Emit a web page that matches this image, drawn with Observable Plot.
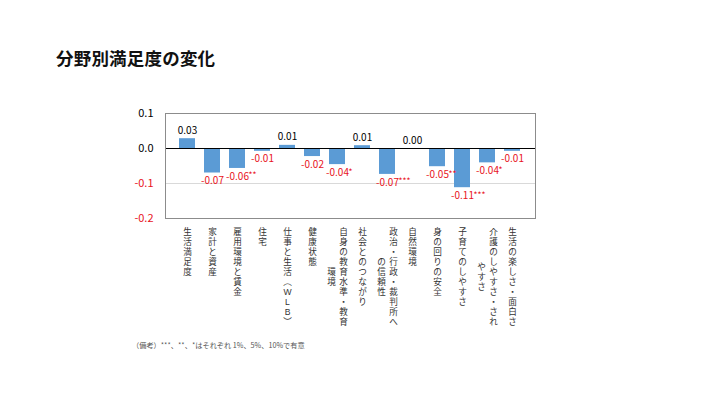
<!DOCTYPE html>
<html>
<head>
<meta charset="utf-8">
<script src="https://cdn.jsdelivr.net/npm/d3@7"></script>
<script src="https://cdn.jsdelivr.net/npm/@observablehq/plot@0.6"></script>
<style>
  html, body { margin: 0; padding: 0; background: #fff; }
  #wrap { position: relative; width: 720px; height: 405px; overflow: hidden; font-family: "Noto Sans CJK JP", "Noto Sans", sans-serif; }
  #title { position: absolute; left: 56px; top: 45px; font-size: 17.5px; font-weight: 700; color: #111; letter-spacing: 0.2px; }
  #note { position: absolute; left: 132px; top: 340px; font-size: 7.2px; color: #555; white-space: nowrap; }
  #chart { position: absolute; left: 0; top: 0; }
</style>
</head>
<body>
<div id="wrap">
  <div id="chart"></div>
  <div id="title">分野別満足度の変化</div>
  <div id="note">（備考）***、**、*はそれぞれ 1%、5%、10%で有意</div>
</div>
<script>
const categories = ["生活満足度","家計と資産","雇用環境と賃金","住宅","仕事と生活（WLB）","健康状態","自身の教育水準・教育環境","社会とのつながり","政治・行政・裁判所への信頼性","自然環境","身の回りの安全","子育てのしやすさ","介護のしやすさ・されやすさ","生活の楽しさ・面白さ"];
const labelLines = [["生活満足度"],["家計と資産"],["雇用環境と賃金"],["住宅"],["仕事と生活︵WLB︶"],["健康状態"],["自身の教育水準・教育","環境"],["社会とのつながり"],["政治・行政・裁判所へ","の信頼性"],["自然環境"],["身の回りの安全"],["子育てのしやすさ"],["介護のしやすさ・され","やすさ"],["生活の楽しさ・面白さ"]];
const values = [0.028, -0.070, -0.057, -0.008, 0.009, -0.023, -0.046, 0.008, -0.074, 0.000, -0.052, -0.112, -0.041, -0.008];
const valueLabels = ["0.03","-0.07","-0.06","-0.01","0.01","-0.02","-0.04","0.01","-0.07","0.00","-0.05","-0.11","-0.04","-0.01"];
const stars = ["","","**","","","","*","","***","","**","***","*",""];
const yTicks = [0.1, 0.0, -0.1, -0.2];
const yTickLabels = ["0.1","0.0","-0.1","-0.2"];

const RED = "#e8141c";
const FS = 8.6, LH = 10 / 8.6;
const LABEL_FONT = "'Liberation Sans', 'Noto Sans CJK JP', sans-serif";
const rows = categories.map((c, i) => ({cat: c, value: values[i], label: valueLabels[i], star: stars[i], lines: labelLines[i]}));
const tickRows = yTicks.map((v, i) => ({v, label: yTickLabels[i]}));
const vert = s => Array.from(s).join("\n");

const secondCols = rows.filter(d => d.lines.length > 1).map(d =>
  Plot.text([d], {
    x: "cat", frameAnchor: "bottom", text: r => vert(r.lines[1]),
    lineAnchor: "top", lineHeight: LH, fontSize: FS, fontFamily: LABEL_FONT, fill: "#333",
    dx: -6, dy: 9 + (Array.from(d.lines[0]).length - Array.from(d.lines[1]).length) / 2 * 10
  })
);

const chart = Plot.plot({
  width: 720, height: 405,
  marginLeft: 165, marginRight: 185, marginTop: 113, marginBottom: 187,
  style: {fontFamily: "'Noto Sans CJK JP', 'Noto Sans', sans-serif", background: "transparent"},
  x: {domain: categories, padding: 0.35, axis: null},
  y: {domain: [-0.2, 0.1], axis: null},
  marks: [
    Plot.ruleY([-0.1], {stroke: "#d9d9d9"}),
    Plot.barY(rows, {x: "cat", y: "value", fill: "#5b9bd5"}),
    Plot.ruleY([0], {stroke: "#000", strokeWidth: 1}),
    Plot.frame({stroke: "#8c8c8c"}),
    Plot.text(tickRows, {y: "v", text: "label", frameAnchor: "left", textAnchor: "end", dx: -12, fontSize: 11, fill: d => d.v < 0 ? RED : "#000"}),
    Plot.text(rows.filter(d => d.value >= 0), {x: "cat", y: "value", text: "label", lineAnchor: "bottom", dy: -5, fontSize: 10, fill: "#000"}),
    Plot.text(rows.filter(d => d.value < 0), {x: "cat", y: "value", text: "label", lineAnchor: "top", dy: 4, fontSize: 10, fill: RED}),
    Plot.text(rows.filter(d => d.star), {x: "cat", y: "value", text: "star", textAnchor: "start", lineAnchor: "top", dx: 11, dy: 4, fontSize: 8.5, fill: RED}),
    Plot.text(rows.filter(d => d.lines.length === 1), {x: "cat", frameAnchor: "bottom", text: d => vert(d.lines[0]), lineAnchor: "top", lineHeight: LH, fontSize: FS, fontFamily: LABEL_FONT, fill: "#333", dy: 9}),
    Plot.text(rows.filter(d => d.lines.length > 1), {x: "cat", frameAnchor: "bottom", text: d => vert(d.lines[0]), lineAnchor: "top", lineHeight: LH, fontSize: FS, fontFamily: LABEL_FONT, fill: "#333", dx: 6, dy: 9}),
    ...secondCols
  ]
});
document.getElementById("chart").appendChild(chart);
</script>
</body>
</html>
